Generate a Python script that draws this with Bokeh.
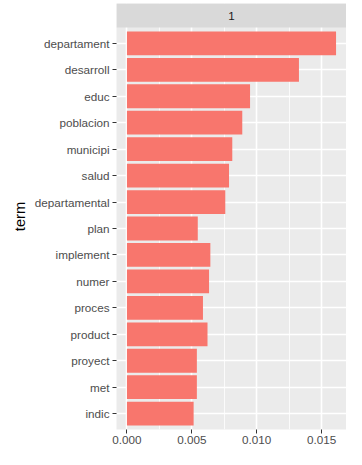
from bokeh.plotting import figure
from bokeh.models import FixedTicker, Range1d, ColumnDataSource, Label
from bokeh.embed import file_html
from bokeh.resources import INLINE

# data (top to bottom in the chart)
terms = ["departament", "desarroll", "educ", "poblacion", "municipi", "salud",
         "departamental", "plan", "implement", "numer", "proces", "product",
         "proyect", "met", "indic"]
values = [0.01612, 0.01326, 0.00949, 0.00889, 0.00812, 0.00787,
          0.00758, 0.00546, 0.00643, 0.00633, 0.00586, 0.00621,
          0.00539, 0.00539, 0.00514]
x_ticks = [0.0, 0.005, 0.010, 0.015]
x_tick_labels = ["0.000", "0.005", "0.010", "0.015"]
facet_label = "1"

n = len(terms)
ypos = [n - i for i in range(n)]  # departament at top

FONT = "Liberation Sans"
W, H = 346, 449
top_border, bottom_border = 3, 20
frame_h = H - top_border - bottom_border   # frame incl. strip
strip_px = 24
panel_px = frame_h - strip_px
y_lo, y_hi_panel = 0.4, n + 0.6
unit_px = panel_px / (y_hi_panel - y_lo)
y_hi = y_hi_panel + strip_px / unit_px

vmax = max(values)
x_lo, x_hi = -0.05 * vmax, 1.05 * vmax

p = figure(width=W, height=H, output_backend="svg", toolbar_location=None,
           x_range=Range1d(x_lo, x_hi), y_range=Range1d(y_lo, y_hi),
           min_border_left=116, min_border_right=0, min_border_top=top_border,
           min_border_bottom=bottom_border)
p.outline_line_color = None
p.background_fill_color = "#EBEBEB"
p.border_fill_color = "white"

src = ColumnDataSource(dict(y=ypos, v=values, term=terms))
p.hbar(y="y", right="v", left=0, height=0.9, source=src,
       fill_color="#F8766D", line_color=None)

# facet strip
p.quad(left=[x_lo], right=[x_hi], bottom=[y_hi_panel], top=[y_hi],
       fill_color="#D9D9D9", line_color=None)
p.add_layout(Label(x=(x_lo + x_hi) / 2, y=(y_hi_panel + y_hi) / 2,
                   text=facet_label, text_align="center", text_baseline="middle",
                   text_font=FONT, text_font_size="11.7px", text_color="#1A1A1A"))

# x axis
p.xaxis.ticker = FixedTicker(ticks=x_ticks,
                             minor_ticks=[0.0025, 0.0075, 0.0125])
p.xaxis.major_label_overrides = {t: l for t, l in zip(x_ticks, x_tick_labels)}
# y axis
p.yaxis.ticker = FixedTicker(ticks=ypos)
p.yaxis.major_label_overrides = {y: t for y, t in zip(ypos, terms)}
p.yaxis.axis_label = "term"

for ax in (p.xaxis[0], p.yaxis[0]):
    ax.axis_line_color = None
    ax.major_tick_line_color = "#333333"
    ax.major_tick_line_width = 1
    ax.major_tick_out = 4
    ax.major_tick_in = 0
    ax.minor_tick_line_color = None
    ax.major_label_text_font = FONT
    ax.major_label_text_font_size = "11.7px"
    ax.major_label_text_color = "#4D4D4D"
    ax.major_label_standoff = 3
p.xaxis.major_label_standoff = 2

p.yaxis.axis_label_text_font = FONT
p.yaxis.axis_label_text_font_size = "14.7px"
p.yaxis.axis_label_text_font_style = "normal"
p.yaxis.axis_label_text_color = "black"
p.yaxis.axis_label_standoff = 4

p.xgrid.grid_line_color = "white"
p.xgrid.grid_line_width = 1.6
p.xgrid.minor_grid_line_color = "white"
p.xgrid.minor_grid_line_width = 0.8
p.ygrid.grid_line_color = "white"
p.ygrid.grid_line_width = 1.6

open("out.html", "w").write(file_html(p, INLINE))
